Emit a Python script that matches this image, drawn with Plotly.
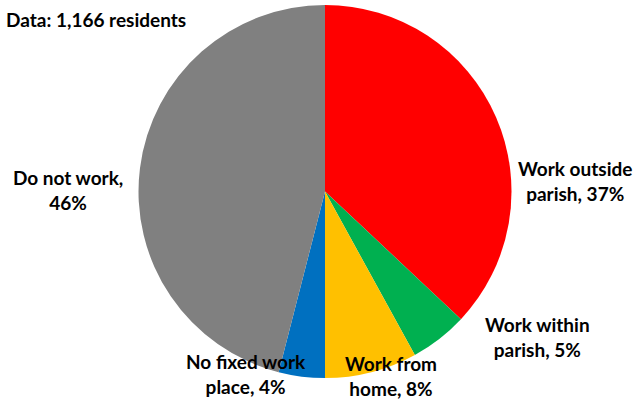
import plotly.graph_objects as go

# Data
labels = ["Work outside parish", "Work within parish", "Work from home",
          "No fixed work place", "Do not work"]
percent = [37, 5, 8, 4, 46]
colors = ["#FF0000", "#00B050", "#FFC000", "#0070C0", "#808080"]
note = "Data: 1,166 residents"

# label layout (style): number of words on first line, and annotation centres in px
first_line_words = [2, 2, 2, 3, 3]
label_pos = [(575, 181), (537, 337), (391, 376), (246, 374), (68, 190)]

W, H = 640, 403
FONT = dict(family="Lato", size=19, color="#000000")

def label_text(name, pct, k):
    words = (name + f", {pct}%").split(" ")
    return " ".join(words[:k]) + "<br>" + " ".join(words[k:])

fig = go.Figure(go.Pie(
    labels=labels, values=percent,
    marker=dict(colors=colors, line=dict(width=0)),
    sort=False, direction="clockwise", rotation=0,
    textinfo="none", hoverinfo="label+percent",
    domain=dict(x=[138.5 / W, 511.5 / W], y=[(H - 378) / H, (H - 5) / H]),
    showlegend=False,
))

annotations = []
for name, pct, k, (px, py) in zip(labels, percent, first_line_words, label_pos):
    annotations.append(dict(
        text="<b>" + label_text(name, pct, k) + "</b>",
        x=px / W, y=1 - py / H, xref="paper", yref="paper",
        xanchor="center", yanchor="middle", showarrow=False,
        font=FONT, align="center",
    ))
annotations.append(dict(
    text="<b>" + note + "</b>", x=4 / W, y=1 - 19 / H, xref="paper", yref="paper",
    xanchor="left", yanchor="middle", showarrow=False, font=FONT,
))

fig.update_layout(
    width=W, height=H, margin=dict(l=0, r=0, t=0, b=0),
    paper_bgcolor="white", plot_bgcolor="white",
    annotations=annotations,
)
fig.write_html("out.html", config={"displayModeBar": False},
               post_script="document.body.style.margin='0';")
